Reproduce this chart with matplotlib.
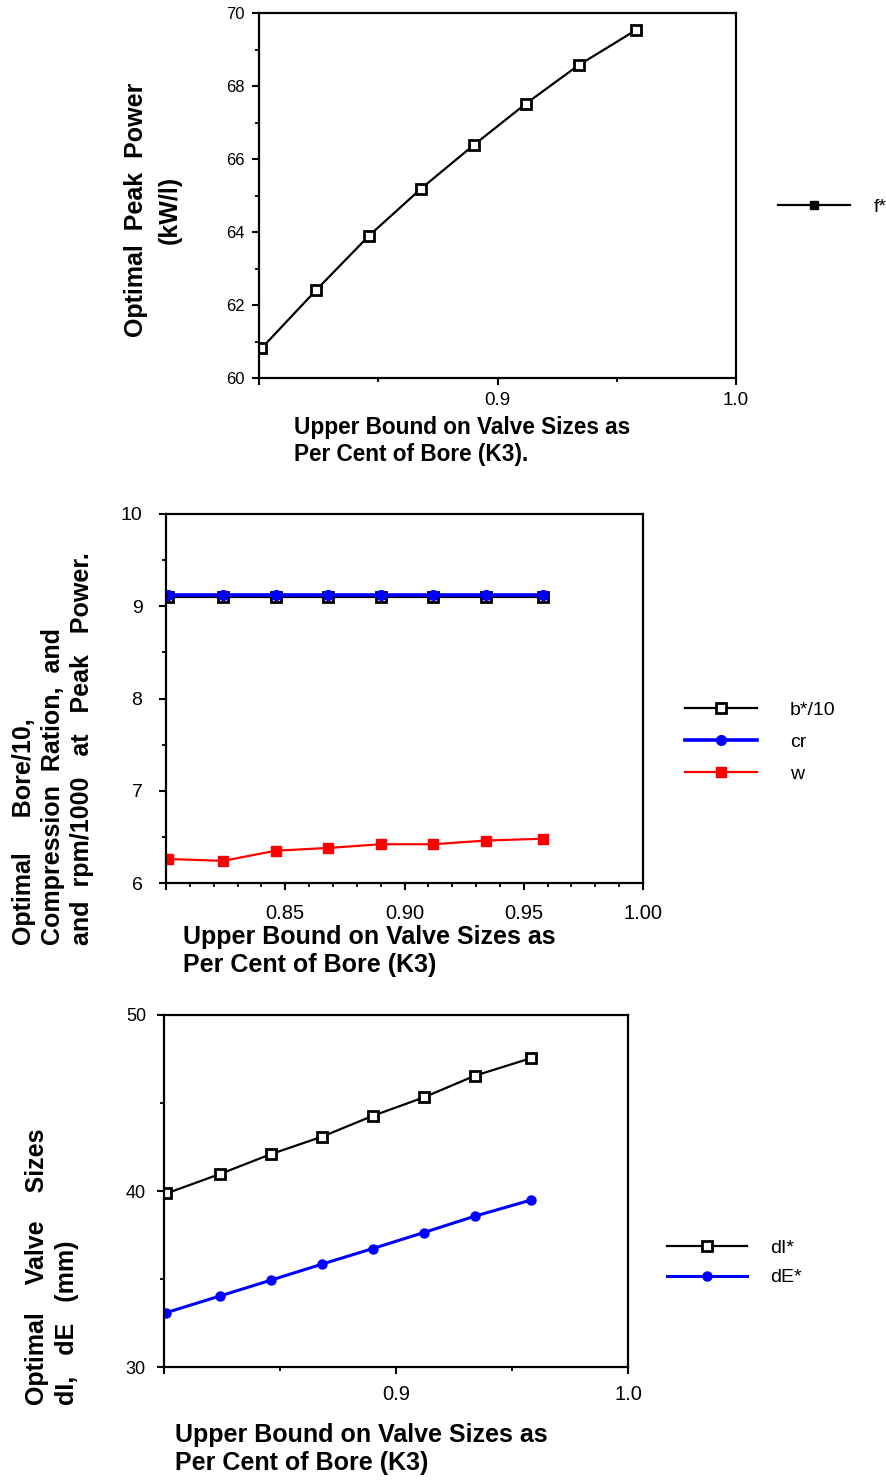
import matplotlib
matplotlib.use("Agg")
import matplotlib.pyplot as plt
from matplotlib.ticker import FixedLocator, MultipleLocator

plt.rcParams['font.family'] = ['Liberation Sans', 'DejaVu Sans']

# valve size bound K3 (fraction of bore)
k3 = [0.801, 0.824, 0.846, 0.868, 0.890, 0.912, 0.934, 0.958]

# optimal peak power, kW/l
peak_power = [60.81, 62.41, 63.89, 65.19, 66.38, 67.52, 68.57, 69.53]

# bore/10, compression ratio, rpm/1000
bore_10 = [9.10, 9.10, 9.10, 9.10, 9.10, 9.10, 9.10, 9.10]
comp_ratio = [9.12, 9.12, 9.12, 9.12, 9.12, 9.12, 9.12, 9.12]
rpm_1000 = [6.26, 6.24, 6.35, 6.38, 6.42, 6.42, 6.46, 6.48]

# optimal intake / exhaust valve diameters, mm
d_intake = [39.86, 40.96, 42.09, 43.08, 44.27, 45.32, 46.55, 47.54]
d_exhaust = [33.09, 34.03, 34.93, 35.84, 36.73, 37.64, 38.57, 39.48]

W, H = 887, 1483
fig = plt.figure(figsize=(W / 100, H / 100), dpi=100)


def px_axes(left, top, right, bottom):
    return fig.add_axes([left / W, 1 - bottom / H, (right - left) / W, (bottom - top) / H])


def style(ax, xfs, yfs):
    for s in ax.spines.values():
        s.set_linewidth(1.6)
    ax.tick_params(which='major', direction='out', length=5, width=1.5, pad=6)
    ax.tick_params(which='minor', direction='out', length=3, width=1.3)
    ax.tick_params(axis='x', labelsize=xfs)
    ax.tick_params(axis='y', labelsize=yfs)


def ylab(x, y, text, va='center', ma='center', ls=1.25):
    fig.text(x / W, 1 - y / H, text, rotation=90, ha='center', va=va,
             multialignment=ma, fontsize=18, fontweight='bold', linespacing=ls)


def xlab(x, y, text, fs=18):
    fig.text(x / W, 1 - y / H, text, ha='left', va='top', fontsize=fs,
             fontweight='bold', linespacing=1.2)


def legend(handles, labels, x, y, hl, pad, ls=0.55):
    fig.legend(handles, labels, loc='center left', bbox_to_anchor=(x / W, 1 - y / H),
               frameon=False, fontsize=14, handlelength=hl, handletextpad=pad,
               labelspacing=ls, borderpad=0, borderaxespad=0)


# --- peak power ---
ax1 = px_axes(259, 13, 736, 378)
ax1.plot(k3, peak_power, color='black', lw=1.6, marker='s', ms=6.5,
         mfc='white', mec='black', mew=2)
ax1.set_xlim(0.8, 1.0)
ax1.set_ylim(60, 70)
ax1.xaxis.set_major_locator(FixedLocator([0.8, 0.9, 1.0]))
ax1.set_xticklabels(['', '0.9', '1.0'])
ax1.xaxis.set_minor_locator(FixedLocator([0.85, 0.95]))
ax1.yaxis.set_major_locator(MultipleLocator(2))
ax1.yaxis.set_minor_locator(MultipleLocator(1))
style(ax1, 13.5, 12)
ax1.tick_params(axis='y', pad=5)
ax1.tick_params(axis='x', pad=5)
ylab(153, 210, 'Optimal  Peak  Power\n(kW/l)', ls=1.5)
xlab(294, 416, 'Upper Bound on Valve Sizes as\nPer Cent of Bore (K3).', fs=16.3)
leg1, = plt.plot([], [], color='black', lw=1.6, marker='s', ms=6, mfc='black', mec='black')
legend([leg1], ['f*'], 778, 207, 3.7, 1.2)

# --- bore, compression ratio, rpm ---
ax2 = px_axes(166, 514, 643, 883)
l2a, = ax2.plot(k3, bore_10, color='black', lw=1.6, marker='s', ms=6.5,
                mfc='white', mec='black', mew=2)
l2b, = ax2.plot(k3, comp_ratio, color='#0000ff', lw=2.6, marker='o', ms=7,
                mfc='#0000ff', mec='#0000ff')
l2c, = ax2.plot(k3, rpm_1000, color='#ff0000', lw=1.6, marker='s', ms=7,
                mfc='#ff0000', mec='#ff0000')
ax2.set_xlim(0.8, 1.0)
ax2.set_ylim(6, 10)
ax2.xaxis.set_major_locator(FixedLocator([0.8, 0.85, 0.9, 0.95, 1.0]))
ax2.set_xticklabels(['', '0.85', '0.90', '0.95', '1.00'])
ax2.xaxis.set_minor_locator(MultipleLocator(0.01))
ax2.yaxis.set_major_locator(MultipleLocator(1))
ax2.yaxis.set_minor_locator(MultipleLocator(0.5))
style(ax2, 14.5, 14)
ax2.tick_params(axis='x', pad=10)
ax2.tick_params(axis='y', pad=12)
ylab(53, 945, 'Optimal     Bore/10,\nCompression  Ration,  and\nand  rpm/1000   at   Peak   Power.',
     va='bottom', ma='left')
xlab(183, 925, 'Upper Bound on Valve Sizes as\nPer Cent of Bore (K3)')
legend([l2a, l2b, l2c], ['b*/10', 'cr', 'w'], 685, 742, 3.7, 1.7, ls=0.75)

# --- valve sizes ---
ax3 = px_axes(164, 1015, 628, 1367)
l3a, = ax3.plot(k3, d_intake, color='black', lw=1.6, marker='s', ms=6.5,
                mfc='white', mec='black', mew=2)
l3b, = ax3.plot(k3, d_exhaust, color='#0000ff', lw=2.2, marker='o', ms=6.5,
                mfc='#0000ff', mec='#0000ff')
ax3.set_xlim(0.8, 1.0)
ax3.set_ylim(30, 50)
ax3.xaxis.set_major_locator(FixedLocator([0.8, 0.9, 1.0]))
ax3.set_xticklabels(['', '0.9', '1.0'])
ax3.xaxis.set_minor_locator(FixedLocator([0.85, 0.95]))
ax3.yaxis.set_major_locator(MultipleLocator(10))
ax3.yaxis.set_minor_locator(MultipleLocator(5))
style(ax3, 14.5, 13)
ax3.tick_params(axis='x', pad=8)
ax3.tick_params(axis='y', pad=8)
ylab(52, 1405, 'Optimal    Valve    Sizes\ndI,   dE   (mm)', va='bottom', ma='left', ls=1.3)
xlab(175, 1423, 'Upper Bound on Valve Sizes as\nPer Cent of Bore (K3)')
legend([l3a, l3b], ['dI*', 'dE*'], 667, 1263, 4.1, 1.2, ls=0.6)

fig.savefig('out.png', dpi=100)
